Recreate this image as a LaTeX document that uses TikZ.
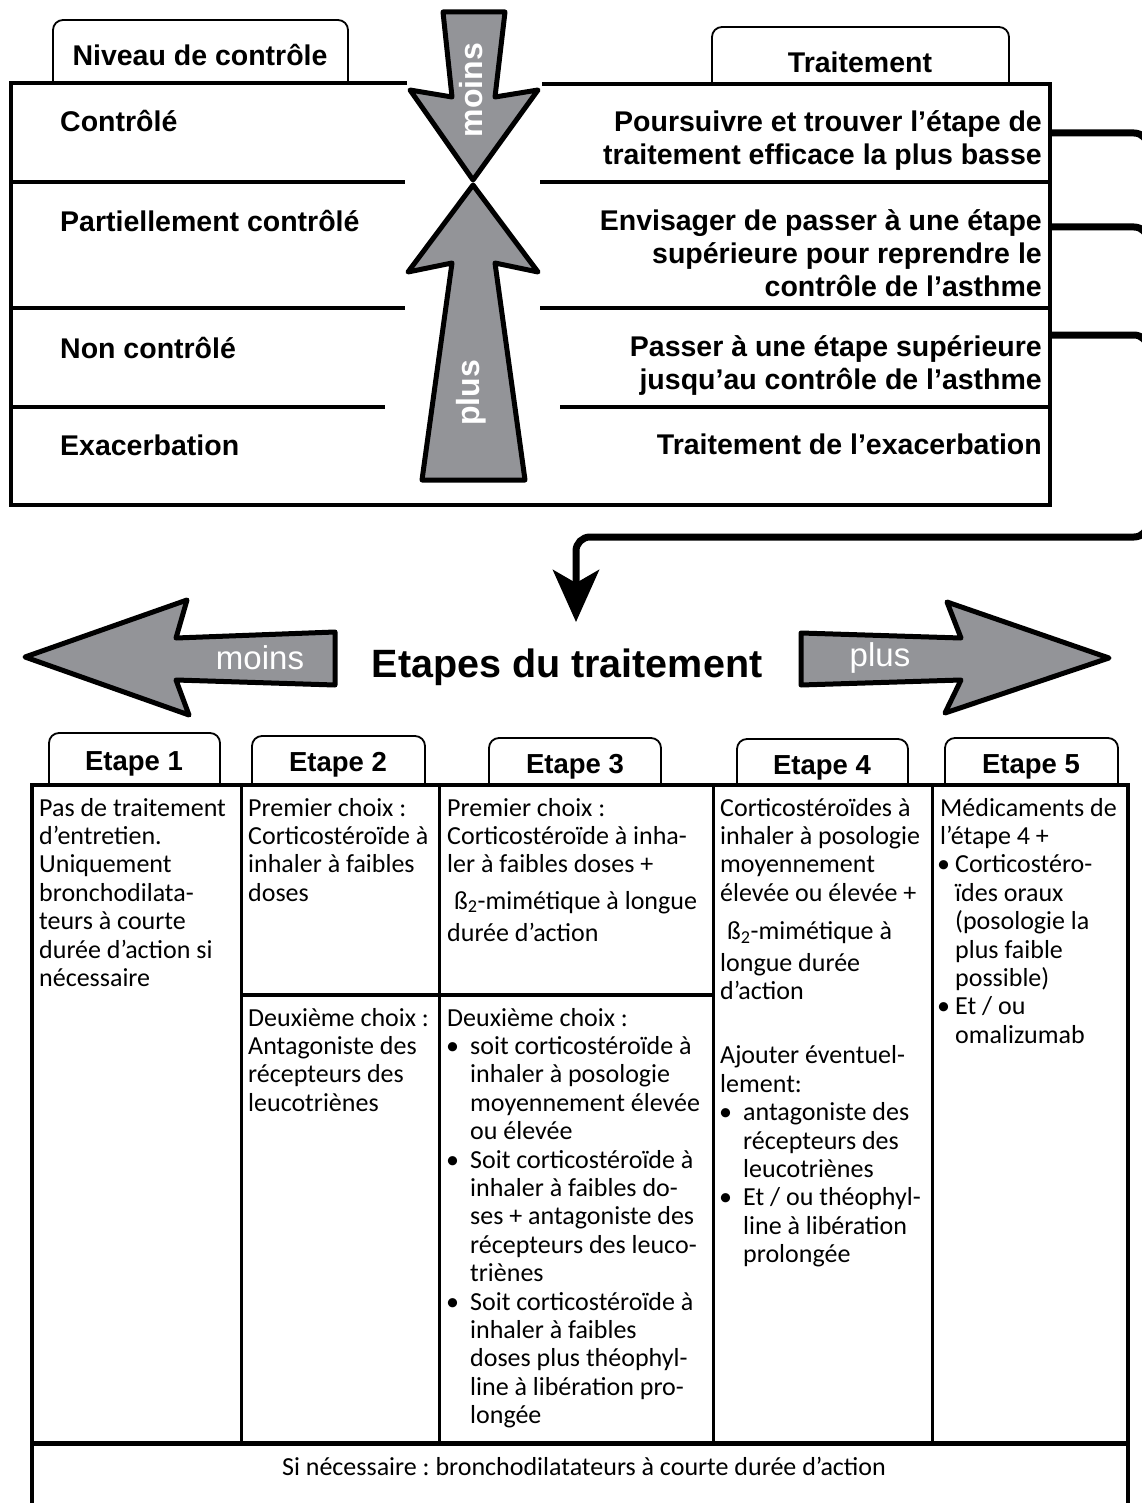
\documentclass[tikz,border=0pt]{standalone}
\usepackage{fontspec}
\setmainfont{Carlito}
\newfontfamily\arial{Liberation Sans}
\usetikzlibrary{arrows.meta}
\definecolor{arrowgray}{RGB}{147,148,152}
\frenchspacing
\newcommand{\puce}{\makebox[23pt][l]{\hspace*{-1pt}\textbullet}}
\newcommand{\pucebis}{\makebox[15pt][l]{\hspace*{-3pt}\textbullet}}
\newcommand{\retrait}[1][23pt]{\hspace*{#1}}
\newcommand{\lignesg}[1]{\begin{tabular}[t]{@{}l@{}}#1\end{tabular}}
\newcommand{\lignesd}[1]{\begin{tabular}[t]{@{}r@{}}#1\end{tabular}}
\tikzset{
  hdr/.style={font=\arial\bfseries\fontsize{28.5}{33}\selectfont, inner sep=0pt},
  tabtxt/.style={font=\arial\bfseries\fontsize{27.5}{32}\selectfont, inner sep=0pt, anchor=base},
  cell/.style={font=\fontsize{26}{28.4}\selectfont, inner sep=0pt, anchor=base west},
  bigarrow/.style={fill=arrowgray, draw=black, line width=5pt, line join=round},
  tabline/.style={line width=1.8pt, rounded corners=10pt},
  frame/.style={line width=4pt},
  conn/.style={line width=7pt, rounded corners=14pt},
}
\begin{document}
\begin{tikzpicture}[x=1pt,y=-1pt]
\useasboundingbox (0,0) rectangle (1141,1503);
%Niveau de controle
\draw[tabline] (53,83) -- (53,20) -- (348,20) -- (348,83);
\node[hdr, anchor=base] (niveau) at (200,66) {Niveau de contrôle};
\draw[tabline] (712,85) -- (712,27) -- (1009,27) -- (1009,85);
\node[hdr, anchor=base] (traitement) at (860,73) {Traitement};
\draw[frame] (407,83) -- (11,83) -- (11,505) -- (1050,505) -- (1050,84) -- (542,84);
\draw[frame] (11,182) -- (405,182);
\draw[frame] (540,182) -- (1050,182);
\draw[frame] (11,308) -- (405,308);
\draw[frame] (540,308) -- (1050,308);
\draw[frame] (11,407) -- (385,407);
\draw[frame] (560,407) -- (1050,407);
\node[hdr, anchor=base west] (controle) at (60,132) {Contrôlé};
\node[hdr, anchor=base west] (partiel) at (60,232) {Partiellement contrôlé};
\node[hdr, anchor=base west] (noncontrole) at (60,358) {Non contrôlé};
\node[hdr, anchor=base west] (exacerb) at (60,455) {Exacerbation};
\node[hdr, anchor=base east] (poursuivre) at (1042,132) {\lignesd{Poursuivre et trouver l’étape de\\traitement efficace la plus basse}};
\node[hdr, anchor=base east] (envisager) at (1042,231) {\lignesd{Envisager de passer à une étape\\supérieure pour reprendre le\\contrôle de l’asthme}};
\node[hdr, anchor=base east] (passer) at (1042,356) {\lignesd{Passer à une étape supérieure\\jusqu’au contrôle de l’asthme}};
\node[hdr, anchor=base east] (trtexac) at (1042,454) {Traitement de l’exacerbation};
%Fleches verticales
\filldraw[bigarrow] (443,12) -- (505,12) -- (495,97) -- (538,90) -- (473,180) -- (410,90) -- (452,97) -- cycle;
\filldraw[bigarrow] (473,185) -- (538,272) -- (495,263) -- (525,480) -- (422,480) -- (452,263) -- (408,272) -- cycle;
\node[rotate=90, text=white, font=\arial\bfseries\fontsize{32}{36}\selectfont] (moinshaut) at (471,90) {moins};
\node[rotate=90, text=white, font=\arial\bfseries\fontsize{32}{36}\selectfont] (plushaut) at (471,393) {plus};
%Retour vers les etapes
\coordinate (r1) at (1050,133);
\coordinate (r2) at (1050,227);
\coordinate (r3) at (1050,335);
\coordinate (pointe) at (576,622);
\draw[conn] (r2) -| (1148,537);
\draw[conn] (r3) -| (1148,537);
\draw[conn, -{Stealth[length=52pt, width=46pt, inset=13pt]}] (r1) -| (1148,537) -| (pointe);
%Etapes du traitement
\node[font=\arial\bfseries\fontsize{39.5}{46}\selectfont, anchor=base, inner sep=0pt] (titre) at (567,677) {Etapes du traitement};
\filldraw[bigarrow] (25,657) -- (187,600) -- (176,638) -- (335,632) -- (335,685) -- (176,680) -- (189,715) -- cycle;
\filldraw[bigarrow] (801,633) -- (961,638) -- (947,602) -- (1109,658) -- (945,713) -- (961,680) -- (801,685) -- cycle;
\node[text=white, font=\arial\fontsize{33}{38}\selectfont] (moinsbas) at (260,658) {moins};
\node[text=white, font=\arial\fontsize{33}{38}\selectfont] (plusbas) at (880,658) {plus};
%Etape 1
\draw[tabline] (49,785) -- (49,733) -- (220,733) -- (220,785);
\node[tabtxt] (e1) at (134,770) {Etape 1};
%Etape 2
\draw[tabline] (252,785) -- (252,736) -- (425,736) -- (425,785);
\node[tabtxt] (e2) at (338,771) {Etape 2};
%Etape 3
\draw[tabline] (489,785) -- (489,738) -- (661,738) -- (661,785);
\node[tabtxt] (e3) at (575,773) {Etape 3};
%Etape 4
\draw[tabline] (737,785) -- (737,739) -- (908,739) -- (908,785);
\node[tabtxt] (e4) at (822,774) {Etape 4};
%Etape 5
\draw[tabline] (945,785) -- (945,738) -- (1118,738) -- (1118,785);
\node[tabtxt] (e5) at (1031,773) {Etape 5};
%Tableau
\draw[frame] (32,1510) -- (32,785) -- (1128,785) -- (1128,1510);
\draw[line width=5pt] (32,1443) -- (1128,1443);
\draw[line width=3pt] (241,785) -- (241,1443);
\draw[line width=3pt] (439,785) -- (439,1443);
\draw[line width=3pt] (713,785) -- (713,1443);
\draw[line width=3pt] (932,785) -- (932,1443);
\draw[frame] (241,995) -- (713,995);
\node[cell] (c1) at (39,816) {\lignesg{Pas de traitement\\d’entretien.\\Uniquement\\bronchodilata-\\teurs à courte\\durée d’action si\\nécessaire}};
\node[cell] (c2a) at (248,816) {\lignesg{Premier choix :\\Corticostéroïde à\\inhaler à faibles\\doses}};
\node[cell] (c2b) at (248,1026) {\lignesg{Deuxième choix :\\Antagoniste des\\récepteurs des\\leucotriènes}};
\node[cell] (c3a) at (447,816) {\lignesg{Premier choix :\\Corticostéroïde à inha-\\ler à faibles doses +\\[8pt]\hspace*{7pt}ß\textsubscript{2}-mimétique à longue\\[4pt]durée d’action}};
\node[cell] (c3b) at (447,1026) {\lignesg{Deuxième choix :\\\puce soit corticostéroïde à\\\retrait inhaler à posologie\\\retrait moyennement élevée\\\retrait ou élevée\\\puce Soit corticostéroïde à\\\retrait inhaler à faibles do-\\\retrait ses + antagoniste des\\\retrait récepteurs des leuco-\\\retrait triènes\\\puce Soit corticostéroïde à\\\retrait inhaler à faibles\\\retrait doses plus théophyl-\\\retrait line à libération pro-\\\retrait longée}};
\node[cell] (c4) at (720,816) {\lignesg{Corticostéroïdes à\\inhaler à posologie\\moyennement\\élevée ou élevée +\\[10pt]\hspace*{7pt}ß\textsubscript{2}-mimétique à\\[3pt]longue durée\\d’action\\[36pt]Ajouter éventuel-\\lement:\\\puce antagoniste des\\\retrait récepteurs des\\\retrait leucotriènes\\\puce Et / ou théophyl-\\\retrait line à libération\\\retrait prolongée}};
\node[cell] (c5) at (940,816) {\lignesg{Médicaments de\\l’étape 4 +\\\pucebis Corticostéro-\\\retrait[15pt]ïdes oraux\\\retrait[15pt](posologie la\\\retrait[15pt]plus faible\\\retrait[15pt]possible)\\\pucebis Et / ou\\\retrait[15pt]omalizumab}};
\node[font=\fontsize{26}{28.4}\selectfont, anchor=base, inner sep=0pt] (sinec) at (584,1475) {Si nécessaire : bronchodilatateurs à courte durée d’action};
\end{tikzpicture}
\end{document}
